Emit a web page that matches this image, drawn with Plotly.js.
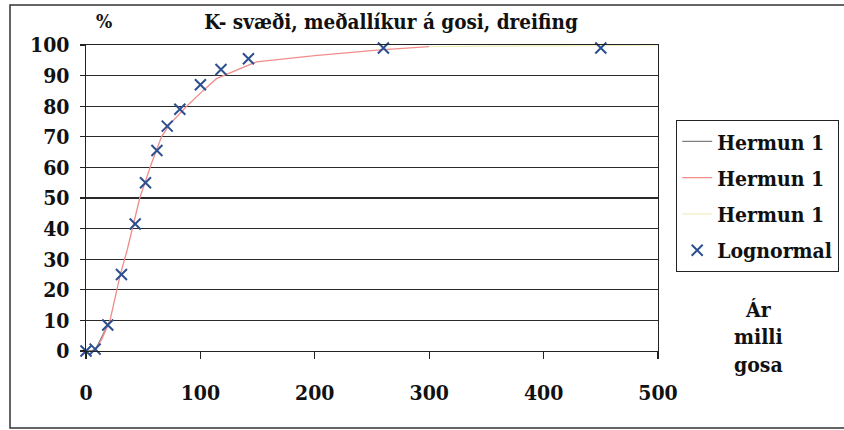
<!DOCTYPE html>
<html>
<head>
<meta charset="utf-8">
<script src="https://cdn.plot.ly/plotly-3.0.1.min.js"></script>
<style>
  html, body { margin: 0; padding: 0; background: #fff; }
  #chart { width: 844px; height: 430px; }
</style>
</head>
<body>
<div id="chart"></div>
<script>
// Data
const hermun1X = [0, 8, 21];
const hermun1Y = [0, 0.3, 10];

const hermun2X = [8, 14, 21, 30, 36, 47, 57, 66, 73, 88, 102, 114, 149, 200, 257, 300];
const hermun2Y = [0, 4, 10, 25, 33, 50, 61, 70, 74, 80, 85, 89, 94.5, 96.5, 98.4, 99.5];

const hermun3X = [300, 500];
const hermun3Y = [99.5, 100];

const lognX = [0, 8, 19, 31, 43, 52, 62, 71, 82, 100, 118, 142, 260, 450];
const lognY = [0, 0.6, 8.5, 25, 41.5, 55, 65.5, 73.5, 79, 87, 92, 95.5, 99, 99];

const seriesNames = ["Hermun 1", "Hermun 1", "Hermun 1", "Lognormal"];
const xTicks = [0, 100, 200, 300, 400, 500];
const yTicks = [0, 10, 20, 30, 40, 50, 60, 70, 80, 90, 100];

const serif = "DejaVu Serif Condensed, DejaVu Serif, serif";

const traces = [
  { x: hermun1X, y: hermun1Y, name: seriesNames[0], mode: "lines", legendgroup: "a",
    line: { color: "#808080", width: 1.2 } },
  { x: hermun2X, y: hermun2Y, name: seriesNames[1], mode: "lines", legendgroup: "b",
    line: { color: "#f08c8c", width: 1.3 } },
  { x: hermun3X, y: hermun3Y, name: seriesNames[2], mode: "lines", legendgroup: "c",
    line: { color: "#f2eec0", width: 1.3 } },
  { x: lognX, y: lognY, name: seriesNames[3], mode: "markers", legendgroup: "d", cliponaxis: false,
    marker: { symbol: "x-thin-open", size: 11, color: "#2b4f8f", line: { width: 2, color: "#2b4f8f" } } }
];

// plot area: x 86..658 px, y 45..351 px
const L = 86, R = 658, T = 45, B = 351;
const px = v => (v - L) / (R - L);
const py = v => (B - v) / (B - T);

const boldFont = (size) => ({ family: serif, size: size, color: "#111", weight: 700 });

const layout = {
  width: 844, height: 430,
  margin: { l: L, r: 844 - R, t: T, b: 430 - B, autoexpand: false },
  paper_bgcolor: "#ffffff",
  plot_bgcolor: "#ffffff",
  font: { family: serif },
  showlegend: true,
  title: {
    text: "K- svæði, meðallíkur á gosi, dreifing",
    font: boldFont(20.5),
    x: 391 / 844, xanchor: "center", xref: "container",
    y: 1 - 22 / 430, yanchor: "middle", yref: "container"
  },
  xaxis: {
    range: [0, 500], tickvals: xTicks, ticktext: xTicks.map(String),
    showgrid: false, zeroline: false,
    showline: true, linecolor: "#222", linewidth: 1.3, mirror: true,
    ticks: "outside", ticklen: 7, tickcolor: "#222", tickwidth: 1.3,
    ticklabelstandoff: 15,
    tickfont: boldFont(21),
    fixedrange: true
  },
  yaxis: {
    range: [0, 100], tickvals: yTicks, ticktext: yTicks.map(String),
    showgrid: true, gridcolor: "#2a2a2a", gridwidth: 1.2, zeroline: false,
    showline: true, linecolor: "#222", linewidth: 1.3, mirror: true,
    ticks: "outside", ticklen: 5, tickcolor: "#222", tickwidth: 1.3,
    ticklabelstandoff: 6,
    tickfont: boldFont(21),
    fixedrange: true
  },
  legend: {
    x: px(676), xanchor: "left", xref: "paper",
    y: py(120), yanchor: "top", yref: "paper",
    bgcolor: "#ffffff", bordercolor: "#222", borderwidth: 1.2,
    font: boldFont(21),
    traceorder: "grouped", tracegroupgap: 6
  },
  annotations: [
    { text: "%", xref: "paper", yref: "paper", x: px(104), y: py(21),
      xanchor: "center", yanchor: "middle", showarrow: false,
      font: boldFont(19) },
    { text: "Ár<br>milli<br>gosa", xref: "paper", yref: "paper", x: px(758), y: py(337),
      xanchor: "center", yanchor: "middle", showarrow: false, align: "center",
      font: boldFont(21) }
  ],
  shapes: [
    { type: "rect", xref: "paper", yref: "paper",
      x0: px(10), x1: px(852), y0: py(428), y1: py(5),
      line: { color: "#333", width: 1.5 }, fillcolor: "rgba(0,0,0,0)", layer: "below" }
  ]
};

Plotly.newPlot("chart", traces, layout, { displayModeBar: false, staticPlot: true });
</script>
</body>
</html>
